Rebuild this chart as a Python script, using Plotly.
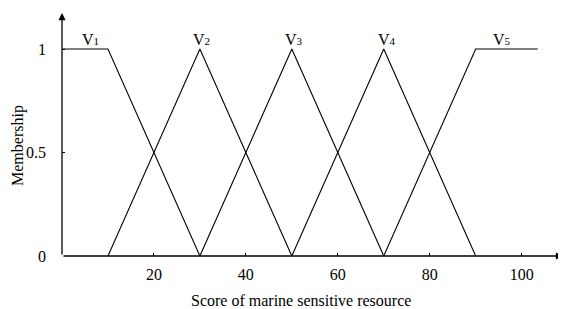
import plotly.graph_objects as go

# Membership functions (score -> membership)
v1_x = [0, 10, 30]
v1_y = [1, 1, 0]
v2_x = [10, 30, 50]
v2_y = [0, 1, 0]
v3_x = [30, 50, 70]
v3_y = [0, 1, 0]
v4_x = [50, 70, 90]
v4_y = [0, 1, 0]
v5_x = [70, 90, 103.5]
v5_y = [0, 1, 1]

series = [(v1_x, v1_y), (v2_x, v2_y), (v3_x, v3_y), (v4_x, v4_y), (v5_x, v5_y)]

label_names = ["1", "2", "3", "4", "5"]
label_x = [6.3, 30.3, 50.4, 70.7, 95.7]
label_y = 1.045

x_ticks = [20, 40, 60, 80, 100]
y_ticks = [0, 0.5, 1]
y_ticktext = ["0", "0.5", "1"]

FONT = "Liberation Serif, Times New Roman, serif"

fig = go.Figure()
for xs, ys in series:
    fig.add_trace(go.Scatter(x=xs, y=ys, mode="lines",
                             line=dict(color="black", width=1.1),
                             showlegend=False, hoverinfo="skip"))

for n, lx in zip(label_names, label_x):
    fig.add_annotation(x=lx, y=label_y,
                       text="V<span style='font-size:11px'>" + n + "</span>",
                       showarrow=False,
                       font=dict(family=FONT, size=16, color="black"),
                       xanchor="center", yanchor="middle")

# axis arrows
fig.add_annotation(x=109, y=0, ax=0, ay=0, xref="x", yref="y", axref="x", ayref="y",
                   text="", showarrow=True, arrowhead=2, arrowsize=1.1, arrowwidth=1.3,
                   arrowcolor="black")
fig.add_annotation(x=0, y=1.174, ax=0, ay=0, xref="x", yref="y", axref="x", ayref="y",
                   text="", showarrow=True, arrowhead=2, arrowsize=1.1, arrowwidth=1.3,
                   arrowcolor="black")

# axis titles
fig.add_annotation(x=52, y=-0.185, xref="x", yref="paper",
                   text="Score of marine sensitive resource", showarrow=False,
                   font=dict(family=FONT, size=16, color="black"),
                   xanchor="center", yanchor="middle")
fig.add_annotation(x=-0.088, y=0.536, xref="paper", yref="y",
                   text="Membership", showarrow=False, textangle=-90,
                   font=dict(family=FONT, size=16, color="black"),
                   xanchor="center", yanchor="middle")

fig.update_layout(
    width=558, height=301,
    margin=dict(l=54, r=3, t=5, b=53, autoexpand=False),
    plot_bgcolor="white", paper_bgcolor="white",
    font=dict(family=FONT, size=16, color="black"),
    xaxis=dict(range=[0, 109], showgrid=False, zeroline=False, showline=False,
               tickvals=x_ticks, ticks="inside", ticklen=3, tickcolor="black",
               ticklabelstandoff=7, automargin=False),
    yaxis=dict(range=[0, 1.174], showgrid=False, zeroline=False, showline=False,
               tickvals=y_ticks, ticktext=y_ticktext, ticks="inside", ticklen=3,
               tickcolor="black", ticklabelstandoff=15, automargin=False),
)

fig.write_html("out.html")
